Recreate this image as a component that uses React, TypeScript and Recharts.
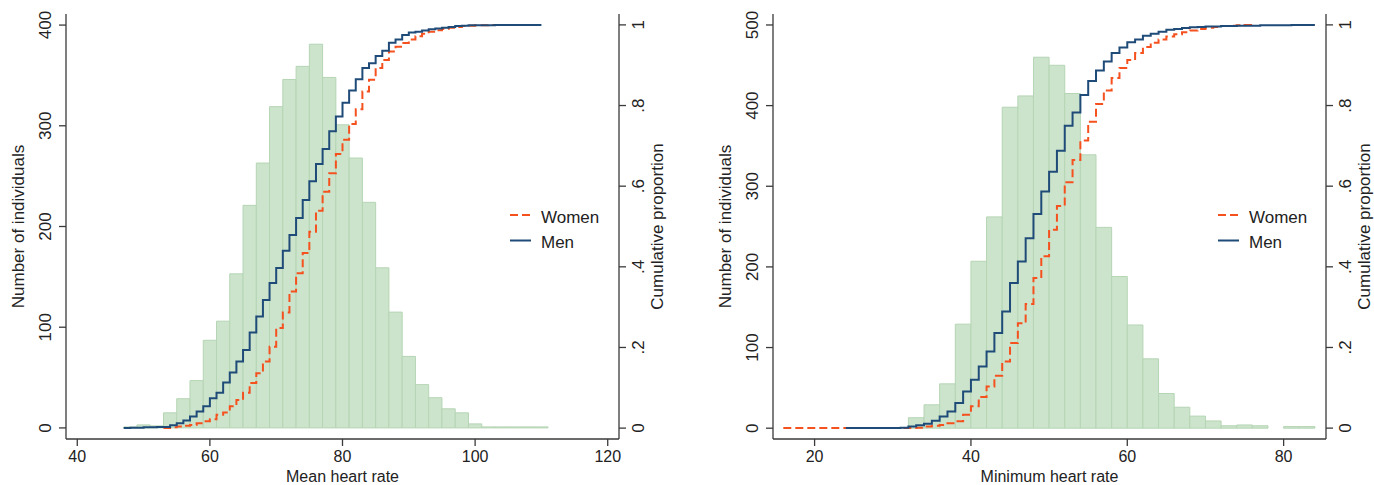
import React from 'react';
import { ComposedChart, Line, XAxis, YAxis, ReferenceArea, Legend } from 'recharts';

const FONT = '"Liberation Sans", Arial, Helvetica, sans-serif';
const INK = '#222222';
const FRAME = '#3a3a3a';
const BAR_FILL = '#cde4cc';
const BAR_EDGE = '#b5d5b4';
const WOMEN = '#f4511e';
const MEN = '#1f4b78';
const BIN = 2;

// ---- Mean heart rate panel ----
const meanBinStart = 47;
const meanCounts = [
  1, 3, 2, 15, 29, 47, 87, 106, 153, 221, 263, 319, 346, 359, 381, 348,
  301, 268, 224, 159, 115, 71, 43, 30, 19, 15, 4, 1, 1, 1, 1, 1,
];
const meanWomen: [number, number][] = [
  [53, 0], [54, 0.002], [55, 0.004], [56, 0.006], [57, 0.008], [58, 0.012], [59, 0.017],
  [60, 0.022], [61, 0.033], [62, 0.039], [63, 0.054], [64, 0.07], [65, 0.088], [66, 0.112],
  [67, 0.136], [68, 0.165], [69, 0.202], [70, 0.248], [71, 0.287], [72, 0.339], [73, 0.384],
  [74, 0.434], [75, 0.487], [76, 0.539], [77, 0.586], [78, 0.632], [79, 0.68], [80, 0.715],
  [81, 0.754], [82, 0.791], [83, 0.835], [84, 0.864], [85, 0.893], [86, 0.913], [87, 0.934],
  [88, 0.946], [89, 0.955], [90, 0.964], [91, 0.972], [92, 0.978], [93, 0.983], [94, 0.987],
  [95, 0.99], [96, 0.993], [97, 0.995], [98, 0.997], [99, 0.998], [100, 0.999], [102, 1], [103, 1],
];
const meanMen: [number, number][] = [
  [47, 0], [48, 0.001], [50, 0.002], [52, 0.003], [54, 0.007], [55, 0.012], [56, 0.019],
  [57, 0.029], [58, 0.041], [59, 0.054], [60, 0.074], [61, 0.088], [62, 0.113], [63, 0.138],
  [64, 0.165], [65, 0.194], [66, 0.237], [67, 0.277], [68, 0.318], [69, 0.36], [70, 0.397],
  [71, 0.44], [72, 0.479], [73, 0.521], [74, 0.566], [75, 0.612], [76, 0.655], [77, 0.692],
  [78, 0.736], [79, 0.773], [80, 0.807], [81, 0.837], [82, 0.865], [83, 0.893], [84, 0.905],
  [85, 0.923], [86, 0.936], [87, 0.956], [88, 0.964], [89, 0.975], [90, 0.981], [91, 0.983],
  [92, 0.986], [93, 0.989], [94, 0.991], [95, 0.993], [96, 0.995], [97, 0.997], [98, 0.998],
  [99, 0.999], [103, 1], [110, 1],
];
const meanXTicks = [40, 60, 80, 100, 120];
const meanCountTicks = [0, 100, 200, 300, 400];

// ---- Minimum heart rate panel ----
const minBinStart = 32;
const minCounts = [
  13, 29, 55, 129, 207, 262, 398, 412, 460, 450, 415, 339, 249, 188, 128, 86,
  43, 26, 15, 9, 3, 4, 3, 0, 2, 2,
];
const minWomen: [number, number][] = [
  [16, 0], [33, 0.001], [34, 0.004], [35, 0.006], [36, 0.008], [37, 0.012], [38, 0.017],
  [39, 0.033], [40, 0.054], [41, 0.077], [42, 0.103], [43, 0.13], [44, 0.165], [45, 0.211],
  [46, 0.26], [47, 0.308], [48, 0.372], [49, 0.426], [50, 0.492], [51, 0.551], [52, 0.61],
  [53, 0.665], [54, 0.713], [55, 0.76], [56, 0.804], [57, 0.837], [58, 0.868], [59, 0.893],
  [60, 0.913], [61, 0.93], [62, 0.945], [63, 0.956], [64, 0.964], [65, 0.971], [66, 0.977],
  [67, 0.982], [68, 0.986], [69, 0.99], [70, 0.993], [71, 0.995], [72, 0.997], [73, 0.998],
  [74, 0.999], [75, 1], [76, 1],
];
const minMen: [number, number][] = [
  [24, 0], [31, 0.001], [32, 0.004], [33, 0.007], [34, 0.011], [35, 0.018], [36, 0.029],
  [37, 0.041], [38, 0.062], [39, 0.091], [40, 0.12], [41, 0.153], [42, 0.19], [43, 0.236],
  [44, 0.289], [45, 0.36], [46, 0.413], [47, 0.471], [48, 0.531], [49, 0.587], [50, 0.636],
  [51, 0.688], [52, 0.75], [53, 0.783], [54, 0.826], [55, 0.861], [56, 0.887], [57, 0.909],
  [58, 0.93], [59, 0.944], [60, 0.957], [61, 0.964], [62, 0.973], [63, 0.978], [64, 0.983],
  [65, 0.988], [66, 0.99], [67, 0.992], [68, 0.994], [69, 0.995], [70, 0.996], [72, 0.997],
  [74, 0.998], [77, 0.999], [81, 1], [84, 1],
];
const minXTicks = [20, 40, 60, 80];
const minCountTicks = [0, 100, 200, 300, 400, 500];

const propTicks = [0, 0.2, 0.4, 0.6, 0.8, 1];
const seriesNames = ['Women', 'Men'];
const seriesDash: Record<string, string | undefined> = { Women: '8 4', Men: undefined };

const toPoints = (pairs: [number, number][]) => pairs.map(([x, p]) => ({ x, p }));
const fmtProp = (v: number) => (v === 0 ? '0' : v === 1 ? '1' : String(v).replace(/^0/, ''));

const RotTick = ({ x, y, payload, shift, fmt }: any) => {
  const bx = x + shift;
  return (
    <text x={bx} y={y} transform={`rotate(-90 ${bx} ${y})`} textAnchor="middle" fontSize={17} fill={INK}>
      {fmt ? fmt(payload.value) : payload.value}
    </text>
  );
};

const RotTitle = ({ viewBox, text, side }: any) => {
  const bx = side === 'left' ? viewBox.x + viewBox.width - 42 : viewBox.x + 44;
  const cy = viewBox.y + viewBox.height / 2;
  return (
    <text x={bx} y={cy} transform={`rotate(-90 ${bx} ${cy})`} textAnchor="middle" fontSize={17} fill={INK}>
      {text}
    </text>
  );
};

const LegendBox = ({ payload }: any) => {
  const items = seriesNames
    .map((n) => (payload || []).find((p: any) => p.value === n))
    .filter(Boolean);
  return (
    <svg width={110} height={56} style={{ display: 'block' }}>
      {items.map((it: any, i: number) => (
        <g key={it.value}>
          <line x1={0} x2={21} y1={10 + i * 25.5} y2={10 + i * 25.5} stroke={it.color} strokeWidth={2}
            strokeDasharray={seriesDash[it.value]} />
          <text x={31} y={17.5 + i * 25.5} fontSize={17} fill={INK} fontFamily={FONT}>{it.value}</text>
        </g>
      ))}
    </svg>
  );
};

type PanelProps = {
  width: number;
  leftAxisW: number;
  rightAxisW: number;
  xDomain: [number, number];
  xTicks: number[];
  countDomain: [number, number];
  countTicks: number[];
  binStart: number;
  counts: number[];
  women: [number, number][];
  men: [number, number][];
  xTitle: string;
  legendLeft: number;
};

function Panel(props: PanelProps) {
  const { width, leftAxisW, rightAxisW, xDomain, xTicks, countDomain, countTicks, binStart, counts, women, men, xTitle, legendLeft } = props;
  return (
    <ComposedChart width={width} height={485} margin={{ top: 14, right: 0, bottom: 0, left: 0 }}>
      <XAxis
        type="number" dataKey="x" domain={xDomain} ticks={xTicks} allowDataOverflow
        tick={{ fontSize: 16, fill: INK }} tickSize={7} tickMargin={5} height={46}
        axisLine={{ stroke: FRAME, strokeWidth: 1.3 }} tickLine={{ stroke: FRAME, strokeWidth: 1.3 }}
        label={{ value: xTitle, position: 'insideBottom', offset: 3.5, fontSize: 16, fill: INK }}
      />
      <XAxis
        xAxisId="top" orientation="top" type="number" domain={xDomain} allowDataOverflow
        tick={false} tickLine={false} height={0} axisLine={{ stroke: FRAME, strokeWidth: 1.3 }}
      />
      <YAxis
        yAxisId="left" type="number" domain={countDomain} ticks={countTicks} allowDataOverflow
        width={leftAxisW} tickSize={7} tickMargin={0}
        axisLine={{ stroke: FRAME, strokeWidth: 1.3 }} tickLine={{ stroke: FRAME, strokeWidth: 1.3 }}
        tick={(p: any) => <RotTick {...p} shift={-8} />}
        label={(p: any) => <RotTitle {...p} text="Number of individuals" side="left" />}
      />
      <YAxis
        yAxisId="right" orientation="right" type="number" domain={[-0.027, 1.027]} ticks={propTicks} allowDataOverflow
        width={rightAxisW} tickSize={7} tickMargin={0}
        axisLine={{ stroke: FRAME, strokeWidth: 1.3 }} tickLine={{ stroke: FRAME, strokeWidth: 1.3 }}
        tick={(p: any) => <RotTick {...p} shift={18} fmt={fmtProp} />}
        label={(p: any) => <RotTitle {...p} text="Cumulative proportion" side="right" />}
      />
      {counts.map((c, i) =>
        c > 0 ? (
          <ReferenceArea
            key={i} yAxisId="left" x1={binStart + i * BIN} x2={binStart + (i + 1) * BIN} y1={0} y2={c}
            fill={BAR_FILL} fillOpacity={1} stroke={BAR_EDGE} strokeWidth={1}
          />
        ) : null
      )}
      <Line
        name="Women" data={toPoints(women)} dataKey="p" yAxisId="right" type="stepAfter"
        stroke={WOMEN} strokeWidth={2} strokeDasharray="8 4" dot={false} activeDot={false} isAnimationActive={false}
      />
      <Line
        name="Men" data={toPoints(men)} dataKey="p" yAxisId="right" type="stepAfter"
        stroke={MEN} strokeWidth={2} dot={false} activeDot={false} isAnimationActive={false}
      />
      <Legend
        layout="vertical" align="center" verticalAlign="middle" content={<LegendBox />}
        wrapperStyle={{ left: legendLeft, top: 204.5, width: 110 }}
      />
    </ComposedChart>
  );
}

export default function App() {
  return (
    <div style={{ position: 'fixed', left: 0, top: 0, width: 1374, height: 485, background: '#fff', display: 'flex', fontFamily: FONT }}>
      <Panel
        width={700} leftAxisW={66} rightAxisW={81}
        xDomain={[38.3, 121.7]} xTicks={meanXTicks}
        countDomain={[-11, 411]} countTicks={meanCountTicks}
        binStart={meanBinStart} counts={meanCounts}
        women={meanWomen} men={meanMen}
        xTitle="Mean heart rate" legendLeft={510}
      />
      <Panel
        width={674} leftAxisW={73} rightAxisW={48}
        xDomain={[14.68, 85.42]} xTicks={minXTicks}
        countDomain={[-13.4, 513.6]} countTicks={minCountTicks}
        binStart={minBinStart} counts={minCounts}
        women={minWomen} men={minMen}
        xTitle="Minimum heart rate" legendLeft={518}
      />
    </div>
  );
}
